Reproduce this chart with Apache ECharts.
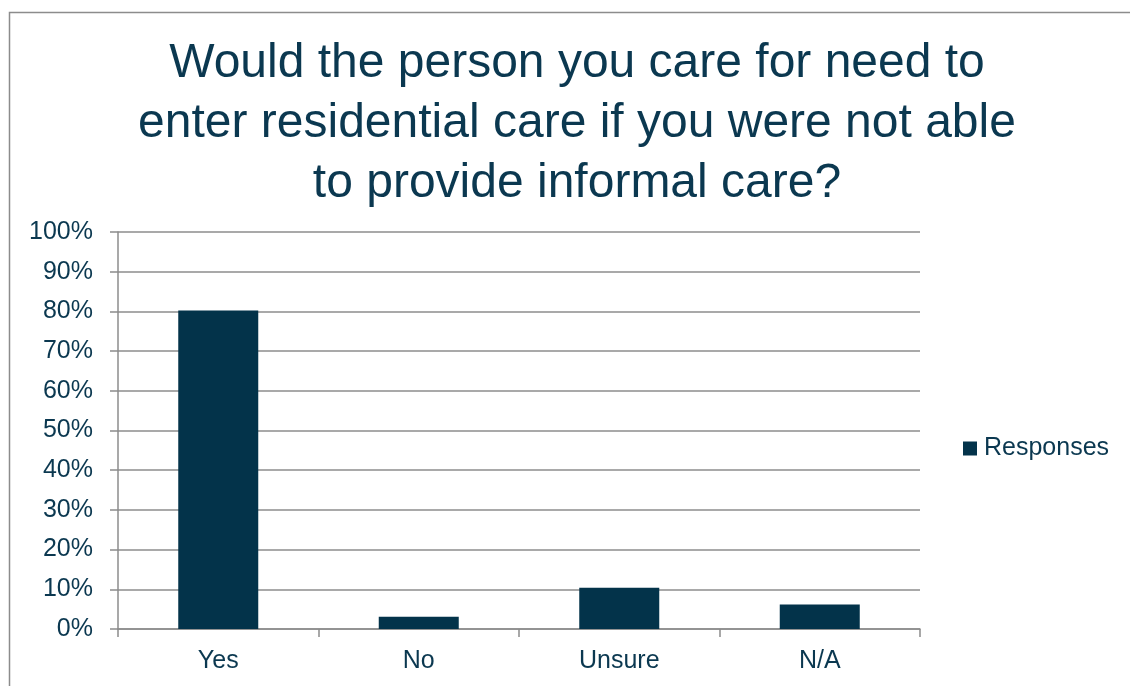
<!DOCTYPE html>
<html>
<head>
<meta charset="utf-8">
<script src="https://cdn.jsdelivr.net/npm/echarts@6/dist/echarts.min.js"></script>
<style>
  html, body { margin: 0; padding: 0; background: #fff; }
  #main { width: 1130px; height: 686px; }
</style>
</head>
<body>
<div id="main"></div>
<script>
var categories = ['Yes', 'No', 'Unsure', 'N/A'];
var responses = [80.2, 3.1, 10.4, 6.2];
var seriesName = 'Responses';
var titleText = 'Would the person you care for need to\nenter residential care if you were not able\nto provide informal care?';

var chart = echarts.init(document.getElementById('main'));
var textColor = '#0b3850';
var barColor = '#03334a';
var lineColor = '#8c8c8c';

chart.setOption({
    animation: false,
    textStyle: { fontFamily: 'Liberation Sans, Arial, sans-serif' },
    graphic: [{
        type: 'rect',
        shape: { x: 9.5, y: 12.5, width: 1140, height: 700 },
        style: { fill: 'none', stroke: '#8c8c8c', lineWidth: 1.5 },
        silent: true
    }],
    title: {
        text: titleText,
        left: 572,
        textAlign: 'center',
        top: 29,
        textStyle: {
            color: textColor,
            fontSize: 48,
            fontWeight: 'normal',
            lineHeight: 60
        }
    },
    legend: {
        data: [seriesName],
        orient: 'vertical',
        left: 958,
        top: 431,
        itemWidth: 14,
        itemHeight: 14,
        itemGap: 0,
        icon: 'rect',
        textStyle: { color: textColor, fontSize: 25, padding: [0, 0, 0, 2] }
    },
    grid: {
        left: 118,
        right: 210,
        top: 232,
        bottom: 57,
        containLabel: false
    },
    xAxis: {
        type: 'category',
        data: categories,
        axisLine: { lineStyle: { color: lineColor, width: 1.5 } },
        axisTick: { show: true, length: 8, alignWithLabel: false, lineStyle: { color: lineColor, width: 1.5 } },
        axisLabel: { color: textColor, fontSize: 25, margin: 20 }
    },
    yAxis: {
        type: 'value',
        min: 0,
        max: 100,
        interval: 10,
        axisLine: { show: true, lineStyle: { color: lineColor, width: 1.5 } },
        axisTick: { show: true, length: 8, lineStyle: { color: lineColor, width: 1.5 } },
        splitLine: { show: true, lineStyle: { color: lineColor, width: 1.5 } },
        axisLabel: {
            color: textColor,
            fontSize: 25,
            margin: 25,
            formatter: '{value}%'
        }
    },
    series: [{
        name: seriesName,
        type: 'bar',
        data: responses,
        barWidth: 80,
        itemStyle: { color: barColor }
    }]
});
</script>
</body>
</html>
